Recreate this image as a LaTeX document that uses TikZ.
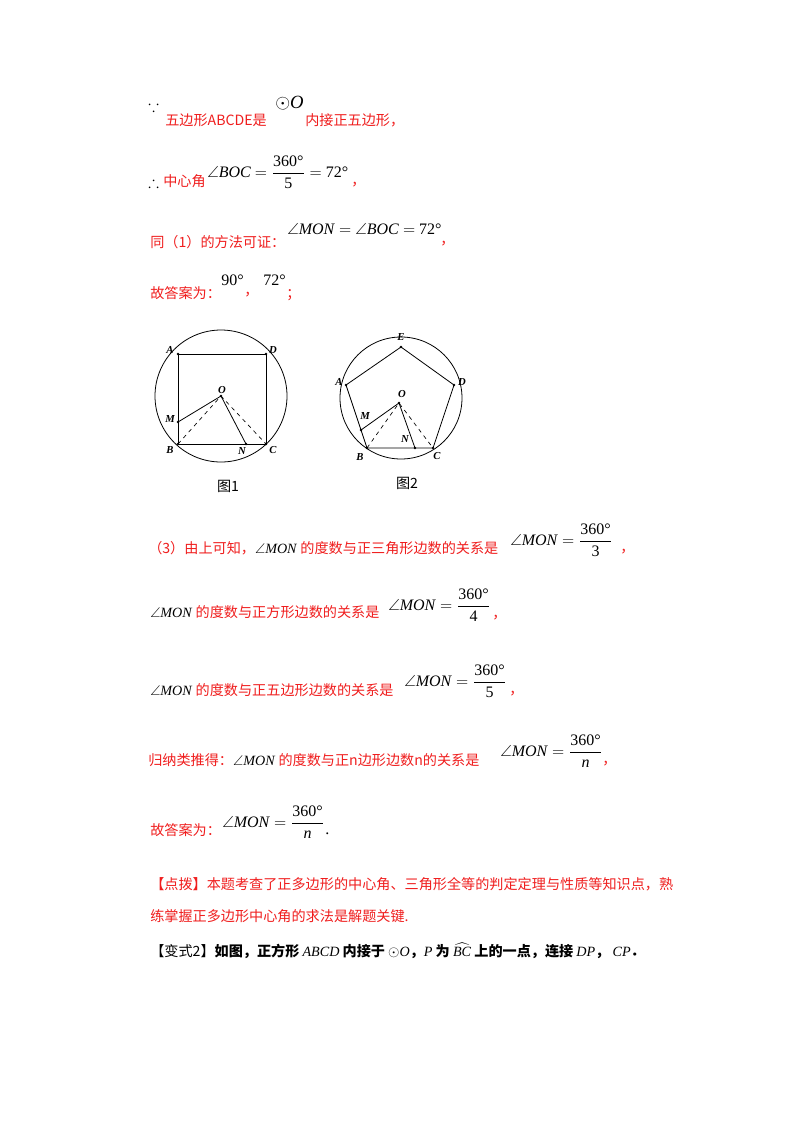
\documentclass[tikz,border=0pt]{standalone}
\usepackage{amsmath,amssymb}
\usepackage{fontspec}
\setmainfont{Liberation Serif}
\newfontfamily\cjk{Noto Sans CJK SC}
\newcommand{\ang}[1]{{\color{black}\rmfamily$\angle$\textit{#1}}}
\begin{document}
\begin{tikzpicture}[x=0.75pt,y=-0.75pt,
  t/.style={anchor=west,inner sep=0pt,font=\fontsize{10.6}{13}\selectfont\cjk},
  r/.style={t,text=myred},
  m/.style={anchor=west,inner sep=0pt,font=\fontsize{12}{14}\selectfont},
  lb/.style={inner sep=1pt,font=\fontsize{8}{9}\selectfont\bfseries\itshape},
  ln/.style={line width=0.6pt},
  dl/.style={line width=0.5pt,dashed},
  pt/.style={circle,fill,inner sep=0pt,minimum size=2.2pt}]
\definecolor{myred}{RGB}{240,30,30}
\useasboundingbox (0,0) rectangle (800,1132);
\fill[white] (0,0) rectangle (800,1132);
% line 1
\node[m] (s1) at (148,106) {$\because$};
\node[r] (l1a) at (165,120) {五边形ABCDE是};
\node[m,font=\fontsize{14}{16}\selectfont] (l1b) at (275,103) {$\odot$\textit{O}};
\node[r] (l1c) at (305,120) {内接正五边形，};
% line 2
\node[m] (s2) at (148,182) {$\therefore$};
\node[r] (l2a) at (163,181) {中心角};
\node[m] (l2b) at (207,172) {\ang{BOC} $=\dfrac{\text{360°}}{\text{5}}=$ 72°};
\node[r] (l2c) at (351,185) {，};
% line 3
\node[r] (l3a) at (150,242) {同（1）的方法可证：};
\node[m] (l3b) at (287,229) {\ang{MON} $=$ \ang{BOC} $=$ 72°};
\node[r] (l3c) at (440,244) {，};
% line 4
\node[r] (l4a) at (150,293) {故答案为：};
\node[m] (l4b) at (221,280) {90°};
\node[r] (l4c) at (244,295) {，};
\node[m] (l4d) at (263,280) {72°};
\node[r] (l4e) at (286,295) {；};
% figure 1
\coordinate (O1) at (221,396);
\draw[ln] (O1) circle (66);
\coordinate (A1) at (178,354); \coordinate (D1) at (266,354);
\coordinate (B1) at (178,444); \coordinate (C1) at (266,444);
\coordinate (M1) at (178,422); \coordinate (N1) at (246,444);
\draw[ln] (A1)--(D1)--(C1)--(B1)--cycle;
\draw[ln] (M1)--(O1)--(N1);
\draw[dl] (B1)--(O1)--(C1);
\foreach \p in {A1,B1,C1,D1,M1,N1,O1} \node[pt] at (\p) {};
\node[lb] at (170,350) {A}; \node[lb] at (273,350) {D};
\node[lb] at (170,450) {B}; \node[lb] at (273,450) {C};
\node[lb] at (170,419) {M}; \node[lb] at (242,451) {N};
\node[lb] at (222,390) {O};
\node[t,anchor=center] (cap1) at (228,486) {图1};
% figure 2
\coordinate (O2) at (401,398);
\draw[ln] (O2) circle (61);
\coordinate (E2) at (401,347); \coordinate (A2) at (346,385);
\coordinate (D2) at (454,385); \coordinate (B2) at (367,448);
\coordinate (C2) at (433,448); \coordinate (M2) at (361,430);
\coordinate (N2) at (415,448); \coordinate (P2) at (399,403);
\draw[ln] (E2)--(D2)--(C2)--(B2)--(A2)--cycle;
\draw[ln] (M2)--(P2)--(N2);
\draw[dl] (B2)--(P2)--(C2);
\foreach \p in {A2,B2,C2,D2,E2,M2,N2,P2} \node[pt] at (\p) {};
\node[lb] at (401,337) {E}; \node[lb] at (339,382) {A};
\node[lb] at (462,382) {D}; \node[lb] at (360,457) {B};
\node[lb] at (437,456) {C}; \node[lb] at (365,416) {M};
\node[lb] at (405,439) {N}; \node[lb] at (402,394) {O};
\node[t,anchor=center] (cap2) at (407,483) {图2};
% (3)
\node[r] (a1) at (148,548) {（3）由上可知，\ang{MON} 的度数与正三角形边数的关系是};
\node[m] (a2) at (510,540) {\ang{MON} $=\dfrac{\text{360°}}{\text{3}}$};
\node[r] (a3) at (620,552) {，};
\node[r] (b1) at (150,612) {\ang{MON} 的度数与正方形边数的关系是};
\node[m] (b2) at (388,605) {\ang{MON} $=\dfrac{\text{360°}}{\text{4}}$};
\node[r] (b3) at (492,618) {，};
\node[r] (c1) at (150,690) {\ang{MON} 的度数与正五边形边数的关系是};
\node[m] (c2) at (404,681) {\ang{MON} $=\dfrac{\text{360°}}{\text{5}}$};
\node[r] (c3) at (509,694) {，};
\node[r] (d1) at (148,760) {归纳类推得：\ang{MON} 的度数与正n边形边数n的关系是};
\node[m] (d2) at (500,751) {\ang{MON} $=\dfrac{\text{360°}}{\textit{n}}$};
\node[r] (d3) at (602,764) {，};
\node[r] (e1) at (150,830) {故答案为：};
\node[m] (e2) at (222,822) {\ang{MON} $=\dfrac{\text{360°}}{\textit{n}}$};
\node[m] (e3) at (325,834) {.};
% remark
\node[r] (f1) at (150,884) {【点拨】本题考查了正多边形的中心角、三角形全等的判定定理与性质等知识点，熟};
\node[r] (f2) at (150,916) {练掌握正多边形中心角的求法是解题关键.};
\node[t] (g1) at (150,951) {【变式2】\textbf{如图，正方形} {\rmfamily\textit{ABCD}} \textbf{内接于} {\rmfamily$\odot$\textit{O}}\textbf{，}{\rmfamily\textit{P}} \textbf{为} {\rmfamily$\widehat{\mbox{\textit{BC}}}$} \textbf{上的一点，连接} {\rmfamily\textit{DP}}\textbf{，} {\rmfamily\textit{CP}}\textbf{．}};
\end{tikzpicture}
\end{document}
